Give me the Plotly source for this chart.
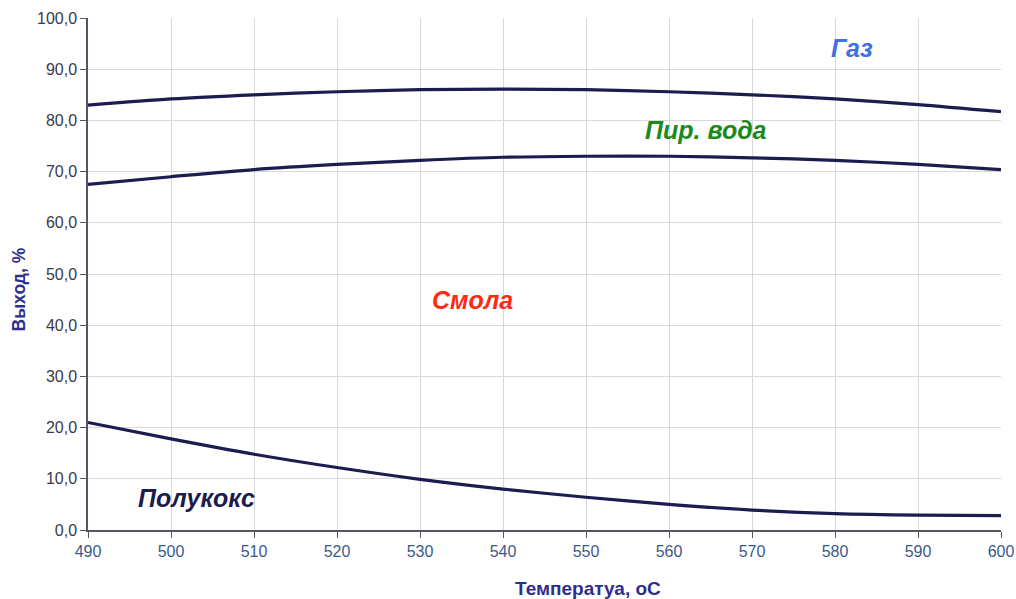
import plotly.graph_objects as go

temps = [490, 500, 510, 520, 530, 540, 550, 560, 570, 580, 590, 600]
gas_boundary = [83.0, 84.2, 85.0, 85.6, 86.0, 86.1, 86.0, 85.6, 85.0, 84.2, 83.1, 81.7]
water_boundary = [67.5, 69.0, 70.4, 71.4, 72.2, 72.8, 73.0, 73.0, 72.7, 72.2, 71.4, 70.4]
coke_boundary = [21.0, 17.8, 14.8, 12.2, 9.9, 8.0, 6.4, 5.0, 3.9, 3.2, 2.9, 2.8]

region_labels = ["Газ", "Пир. вода", "Смола", "Полукокс"]
label_x = [582, 564.5, 536.3, 503.1]
label_y = [94.1, 78.1, 44.9, 6.3]
label_colors = ["#3d6fe6", "#1a8a1a", "#ff2a14", "#1c1c4e"]

y_ticks = [0, 10, 20, 30, 40, 50, 60, 70, 80, 90, 100]
y_tick_text = [("%.1f" % v).replace(".", ",") for v in y_ticks]

x_title = "Температуа, оС"
y_title = "Выход, %"

line_color = "#1c1c50"

fig = go.Figure()
for ys in (gas_boundary, water_boundary, coke_boundary):
    fig.add_trace(go.Scatter(x=temps, y=ys, mode="lines",
                             line=dict(color=line_color, width=3.2, shape="spline", smoothing=0.8),
                             showlegend=False, hoverinfo="skip"))

for t, x, y, c in zip(region_labels, label_x, label_y, label_colors):
    fig.add_annotation(x=x, y=y, text="<b><i>%s</i></b>" % t, showarrow=False,
                       font=dict(family="Liberation Sans, Arial", size=25, color=c))

fig.add_annotation(xref="paper", yref="paper", x=(588 - 88) / 913, y=(530 - 588) / 512,
                   text="<b>%s</b>" % x_title, showarrow=False,
                   font=dict(size=19, color="#2e2e8c"), xanchor="center", yanchor="middle")
fig.add_annotation(xref="paper", yref="paper", x=(18.5 - 88) / 913, y=(530 - 290) / 512,
                   text="<b>%s</b>" % y_title, showarrow=False, textangle=-90,
                   font=dict(size=17.5, color="#2e2e8c"), xanchor="center", yanchor="middle")

fig.update_layout(
    width=1016, height=599,
    margin=dict(l=88, r=15, t=18, b=69, autoexpand=False),
    plot_bgcolor="white", paper_bgcolor="white",
    font=dict(family="Liberation Sans, Arial"),
)
fig.update_xaxes(range=[490, 600], tickvals=temps, ticks="outside", ticklen=6, tickcolor="#555566",
                 showgrid=True, gridcolor="#d8d8d8", gridwidth=1,
                 showline=True, linecolor="#555566", linewidth=1.5,
                 tickfont=dict(size=16, color="#3a5a8c"), automargin=False,
                 zeroline=False)
fig.update_yaxes(range=[0, 100], tickvals=y_ticks, ticktext=y_tick_text, ticks="outside", ticklen=6,
                 tickcolor="#555566", showgrid=True, gridcolor="#d8d8d8", gridwidth=1,
                 showline=True, linecolor="#555566", linewidth=1.5,
                 tickfont=dict(size=16, color="#3a3a4a"), automargin=False,
                 zeroline=False)

fig.write_html("out.html", config={"displayModeBar": False},
               post_script="document.body.style.margin='0';document.body.style.overflow='hidden';")
